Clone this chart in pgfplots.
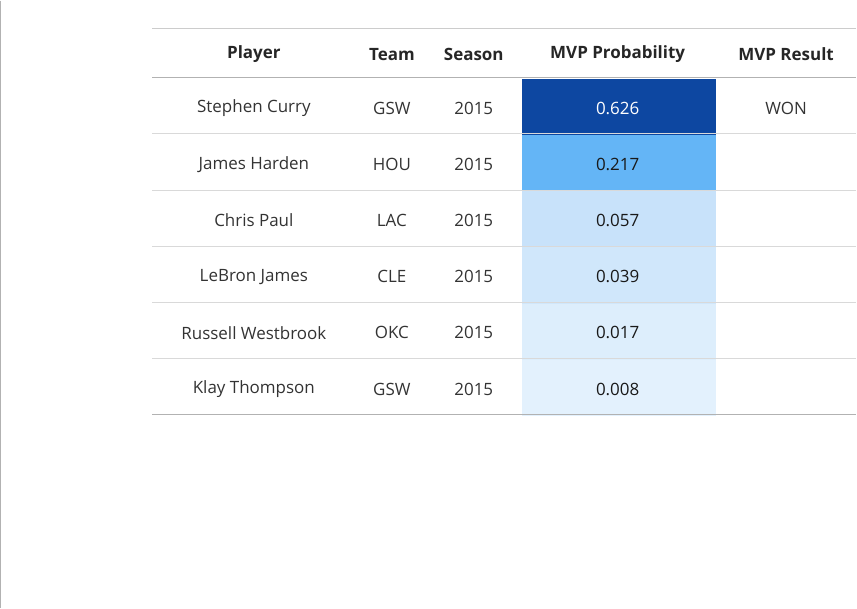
\documentclass[border=0pt]{standalone}
\usepackage{pgfplots}
\pgfplotsset{compat=1.18}
\usepackage{fontspec}
\setmainfont{Open Sans}
\definecolor{txt}{RGB}{51,51,51}
\definecolor{c1}{RGB}{13,71,161}
\definecolor{c2}{RGB}{100,181,246}
\definecolor{c3}{RGB}{200,226,250}
\definecolor{c4}{RGB}{208,231,251}
\definecolor{c5}{RGB}{221,238,252}
\definecolor{c6}{RGB}{227,241,253}
\begin{document}
\begin{tikzpicture}
\begin{axis}[x=1pt,y=1pt,scale only axis,hide axis,clip=false,
  xmin=0,xmax=857,ymin=0,ymax=519,y dir=reverse,
  every axis plot/.append style={draw=none}]
\addplot[fill=c1] coordinates {(446,67)(612,67)(612,115)(446,115)} -- cycle;
\addplot[fill=c2] coordinates {(446,115)(612,115)(612,163)(446,163)} -- cycle;
\addplot[fill=c3] coordinates {(446,163)(612,163)(612,211)(446,211)} -- cycle;
\addplot[fill=c4] coordinates {(446,211)(612,211)(612,259)(446,259)} -- cycle;
\addplot[fill=c5] coordinates {(446,259)(612,259)(612,307)(446,307)} -- cycle;
\addplot[fill=c6] coordinates {(446,307)(612,307)(612,355)(446,355)} -- cycle;
\draw[gray!40,line width=1pt] (axis cs:130,24) -- (axis cs:732,24);
\draw[gray!60,line width=1.2pt] (axis cs:130,66) -- (axis cs:732,66);
\pgfplotsinvokeforeach{114,162,210,258,306}{\draw[gray!30,line width=0.8pt] (axis cs:130,#1) -- (axis cs:732,#1);}
\draw[gray!60,line width=1.2pt] (axis cs:130,354) -- (axis cs:732,354);
\draw[gray!60,line width=1pt] (axis cs:0.5,0) -- (axis cs:0.5,519);
\begin{scope}[every node/.style={font=\fontsize{14.5}{16}\selectfont\bfseries,text=black!85}]
\node at (axis cs:217,46) {Player};
\node at (axis cs:335,46) {Team};
\node at (axis cs:405,46) {Season};
\node at (axis cs:528,46) {MVP Probability};
\node at (axis cs:672,46) {MVP Result};
\end{scope}
\begin{scope}[every node/.style={font=\fontsize{14.5}{16}\selectfont,text=txt}]
\node at (axis cs:217,92) {Stephen Curry};
\node at (axis cs:217,140) {James Harden};
\node at (axis cs:217,188) {Chris Paul};
\node at (axis cs:217,236) {LeBron James};
\node at (axis cs:217,284) {Russell Westbrook};
\node at (axis cs:217,332) {Klay Thompson};
\node at (axis cs:335,92) {GSW};
\node at (axis cs:335,140) {HOU};
\node at (axis cs:335,188) {LAC};
\node at (axis cs:335,236) {CLE};
\node at (axis cs:335,284) {OKC};
\node at (axis cs:335,332) {GSW};
\node at (axis cs:405,92) {2015};
\node at (axis cs:405,140) {2015};
\node at (axis cs:405,188) {2015};
\node at (axis cs:405,236) {2015};
\node at (axis cs:405,284) {2015};
\node at (axis cs:405,332) {2015};
\node[text=white] at (axis cs:528,92) {0.626};
\node[text=black!90] at (axis cs:528,140) {0.217};
\node[text=black!90] at (axis cs:528,188) {0.057};
\node[text=black!90] at (axis cs:528,236) {0.039};
\node[text=black!90] at (axis cs:528,284) {0.017};
\node[text=black!90] at (axis cs:528,332) {0.008};
\node at (axis cs:672,92) {WON};
\end{scope}
\end{axis}
\end{tikzpicture}
\end{document}
